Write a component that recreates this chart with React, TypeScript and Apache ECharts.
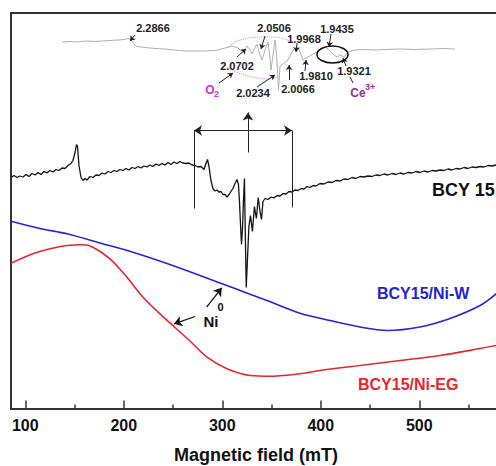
import React, { useEffect, useRef } from "react";
import * as echarts from "echarts";

// Main spectra: [magnetic field (mT), intensity (a.u.)]
const BCY15: number[][] = [
  [85.5,231],[88.5,233],[91.6,231],[94.6,232.5],[97.7,231.5],[100.7,234],[103.8,232],[106.8,235],[109.9,233.5],[112.9,236],
  [116,234],[119,237],[122,235.5],[125.1,238],[128.1,236.5],[131.2,239],[134.2,238],[137.3,240.5],[140.3,240],[143.3,243],
  [146.4,245],[148.4,248],[150.5,256],[152,264],[153,262],[154.5,243],[156.6,231],[158.6,228],[160.6,230],[162.7,228.5],
  [165.7,232],[168.7,231],[171.8,233.5],[174.8,233],[177.9,235.5],[180.9,234.5],[184,237],[187,236],[190.1,238],[193.1,237],
  [196.1,239],[199.2,238],[202.2,240],[205.3,238.5],[208.3,241],[211.4,240],[214.4,242],[217.5,240.5],[220.5,242.5],[223.5,241.5],
  [226.6,243.5],[229.6,242],[232.7,244.5],[235.7,243],[238.8,245],[241.8,243.5],[244.9,246],[247.9,244],[250.9,246.5],[254,245],
  [257.1,247],[260.1,245.5],[263.1,245],[266.2,245.5],[269.2,243.5],[272.3,243],[275.3,241.5],[278.4,242],[281.4,239],[283.4,245],
  [285,249],[286.5,242],[288.5,228],[290.5,220],[292.6,217.5],[294.6,218.5],[296.6,216.5],[298.7,217],[300.7,214],[302.7,214],
  [304.7,211.5],[306.8,214],[308.8,217],[310.8,220],[312.9,225],[314.9,229],[316.4,224],[317.4,208],[318.4,186],[319.5,164],
  [320.5,180],[321.5,208],[322.5,230],[323.3,178],[324.3,121],[325.5,148],[327,182],[328.6,193],[330.6,177],[332.6,202],
  [334.6,190],[336.5,211],[338.3,197],[339.8,189],[341.3,207],[343.4,210],[346.4,209],[349.5,211.5],[352.5,210.5],[355.6,213],
  [358.6,212.5],[361.7,215],[364.7,214.5],[367.7,217],[370.8,216.5],[373.8,218.5],[376.9,218],[379.9,220],[383,219.5],[386,222],
  [389,221],[392.1,223],[395.1,222.5],[399.2,225],[403.2,224.5],[407.3,226.5],[411.4,226],[415.4,228],[419.5,227.5],[423.5,229.5],
  [427.6,229],[431.7,231],[435.7,230],[439.8,232],[443.9,231.5],[447.9,232.5],[452,232],[456,233.5],[460.1,233],[464.2,234.5],
  [468.2,233.5],[472.3,235],[476.3,234],[480.4,235.5],[484.5,234.5],[488.5,236],[492.6,235.5],[496.6,237],[500.7,236],[504.8,237.5],
  [508.8,236.5],[512.9,238],[516.9,237.5],[521,238.5],[525.1,238],[529.1,239.5],[533.2,238.5],[537.2,240],[541.3,239.5],[545.4,241],
  [549.4,240],[553.5,241.5],[557.5,241],[561.6,242],[565.7,241.5],[569.7,243],[573.8,242.5],[577.9,243.5],[582,243]
];

const NI_W: number[][] = [
  [85.5,187.3],[114.9,180],[142.3,174.7],[175.8,165.5],[209.3,156.3],[243.9,145],[277.4,133],[310.9,120.7],[345.4,108],
  [378.9,95.3],[409.3,88],[439.8,81.5],[467.2,78],[500.7,81.5],[531.2,90],[561.6,103],[577.9,114.5],[587,122]
];

const NI_EG: number[][] = [
  [85.5,145.3],[107.8,154.7],[125.1,159.7],[142.3,163],[158.6,163.7],[168.7,161.3],[186,149.7],[203.2,131.3],[219.5,111.3],
  [236.8,94.7],[252,81],[267.2,67.5],[284.5,51.3],[304.8,39.7],[328.1,33],[351.5,32.3],[378.9,34.7],[399.2,38],[439.8,43],
  [480.4,48],[521,53],[561.6,60],[577.9,63],[587,65]
];

const MAJOR_TICKS = [100, 200, 300, 400, 500];
const MINOR_TICKS = [150, 250, 350, 450, 550];

// Inset (expanded spectrum), in inset units
const INSET: number[][] = [
  [2,63],[10,63.5],[18,63],[26,64],[34,63.5],[42,64],[50,64.5],[58,65],[64,65.5],[68,66.5],[71,65],[74,61],[77,58.5],
  [85,57.5],[95,56.5],[105,56],[115,55],[125,54],[135,54],[145,54],[155,54.5],[165,57],[172,59],[178,57],[183,53],
  [187,59],[190,55],[192,51],[195,58],[197,61],[199,53],[202,45],[205,55],[208,63],[210,47],[211,35],[213,50],[215,65],
  [217,45],[218.5,15],[220,39],[223,41],[227,44],[230,49],[233,55],[236,57],[238,58],[240,53],[243,45],[246,47],[250,49],
  [253,51],[257,53],[261,56],[265,58],[268,56],[271,53],[274,50],[277,48],[280,50],[284,48],[288,53],[295,55],[305,55.5],
  [315,55],[325,55.5],[340,56],[355,55.5],[370,56],[385,56.5],[395,56]
];
const O2_UPPER: number[][] = [[168,57],[175,63],[185,66],[198,68],[212,68],[225,66],[232,62]];
const O2_LOWER: number[][] = [[162,42],[172,35],[185,30],[198,27],[210,26],[218,28]];

// g-value labels in the inset
const G_LABELS = [
  { t: "2.2866", x: 153, y: 28 },
  { t: "2.0702", x: 237, y: 66 },
  { t: "2.0506", x: 274, y: 28 },
  { t: "1.9968", x: 304, y: 39 },
  { t: "1.9435", x: 337, y: 29 },
  { t: "1.9810", x: 316, y: 76 },
  { t: "2.0234", x: 253, y: 93 },
  { t: "2.0066", x: 298, y: 89 },
  { t: "1.9321", x: 354, y: 71 },
];
const INSET_ARROWS: number[][][] = [
  [[75,70],[70,64]],[[177,48],[186,56]],[[159,22],[173,32]],[[205,69],[201,56]],[[237,62],[236,53]],
  [[271,71],[269,58]],[[245,34],[246,45]],[[197,18],[215,30]],[[229,25],[229,40]],[[286,39],[283,47]]
];

const FONT = "Liberation Sans, Arial, sans-serif";

export default function App() {
  const ref = useRef<HTMLDivElement>(null);
  useEffect(() => {
    if (!ref.current) return;
    const chart = echarts.init(ref.current, undefined, { renderer: "svg" });
    const axisLineStyle = { color: "#333", width: 2 };
    const arrow = (a: number[], b: number[], s0: string, s1: string) => [
      { coord: a, symbol: s0 },
      { coord: b, symbol: s1 },
    ];
    const txt = (text: string, x: number, y: number, size: number, color: string, align = "center") => ({
      type: "text",
      x,
      y,
      z: 10,
      style: {
        text,
        fill: color,
        font: `bold ${size}px ${FONT}`,
        textAlign: align,
        textVerticalAlign: "middle",
      },
    });
    chart.setOption({
      animation: false,
      backgroundColor: "#fff",
      grid: [
        { left: 11, top: 13, width: 506.8, height: 395.5, outerBoundsMode: "none" },
        { left: 60, top: 15, width: 400, height: 90, outerBoundsMode: "none" },
      ],
      xAxis: [
        {
          type: "value", gridIndex: 0, min: 85.5, max: 600, position: "bottom",
          axisLine: { show: true, onZero: false, lineStyle: axisLineStyle },
          axisTick: { show: true, inside: true, length: 8, customValues: MAJOR_TICKS, lineStyle: { color: "#333", width: 1.5 } },
          axisLabel: { show: true, customValues: MAJOR_TICKS, margin: 9, color: "#111", fontSize: 16, fontWeight: "bold", fontFamily: FONT },
          splitLine: { show: false },
        },
        {
          type: "value", gridIndex: 0, min: 85.5, max: 600, position: "bottom",
          axisLine: { show: false, onZero: false },
          axisTick: { show: true, inside: true, length: 4, customValues: MINOR_TICKS, lineStyle: { color: "#333", width: 1.5 } },
          axisLabel: { show: false, customValues: MINOR_TICKS },
          splitLine: { show: false },
        },
        {
          type: "value", gridIndex: 0, min: 85.5, max: 600, position: "top",
          axisLine: { show: true, onZero: false, lineStyle: axisLineStyle },
          axisTick: { show: false }, axisLabel: { show: false }, splitLine: { show: false },
        },
        { type: "value", gridIndex: 1, min: 0, max: 400, show: false, splitLine: { show: false } },
      ],
      yAxis: [
        {
          type: "value", gridIndex: 0, min: 0, max: 395.5, position: "left",
          axisLine: { show: true, onZero: false, lineStyle: axisLineStyle },
          axisTick: { show: false }, axisLabel: { show: false }, splitLine: { show: false },
        },
        { type: "value", gridIndex: 1, min: 0, max: 90, show: false, splitLine: { show: false } },
      ],
      series: [
        {
          type: "line", xAxisIndex: 0, yAxisIndex: 0, data: BCY15, showSymbol: false, silent: true,
          lineStyle: { color: "#141414", width: 1.3 },
          markLine: {
            silent: true, symbolSize: 8, label: { show: false }, emphasis: { disabled: true },
            lineStyle: { color: "#222", width: 1, type: "solid" },
            data: [
              arrow([271.3, 278], [370.8, 278], "arrow", "arrow"),
              arrow([271.3, 278], [271.3, 200], "none", "none"),
              arrow([370.8, 278], [370.8, 201], "none", "none"),
              arrow([326.1, 256], [326.1, 296], "none", "arrow"),
            ],
          },
        },
        {
          type: "line", xAxisIndex: 0, yAxisIndex: 0, data: NI_W, showSymbol: false, silent: true, smooth: 0.3,
          lineStyle: { color: "#2424dc", width: 1.6 },
        },
        {
          type: "line", xAxisIndex: 0, yAxisIndex: 0, data: NI_EG, showSymbol: false, silent: true, smooth: 0.3,
          lineStyle: { color: "#e8262e", width: 1.6 },
          markLine: {
            silent: true, symbolSize: 8, label: { show: false }, emphasis: { disabled: true },
            lineStyle: { color: "#111", width: 1.3, type: "solid" },
            data: [
              arrow([284.1, 101.3], [299.4, 120.7], "none", "arrow"),
              arrow([272.3, 92], [251, 84.7], "none", "arrow"),
            ],
          },
        },
        {
          type: "line", xAxisIndex: 3, yAxisIndex: 1, data: INSET, showSymbol: false, silent: true,
          lineStyle: { color: "#b0b0b0", width: 1 },
          markLine: {
            silent: true, symbolSize: 5, label: { show: false }, emphasis: { disabled: true },
            lineStyle: { color: "#222", width: 1, type: "solid" },
            data: [
              ...INSET_ARROWS.map(([a, b]) => arrow(a, b, "none", "arrow")),
              arrow([290, 28], [293, 22], "none", "none"),
            ],
          },
        },
        {
          type: "line", xAxisIndex: 3, yAxisIndex: 1, data: O2_UPPER, showSymbol: false, silent: true, smooth: 0.4,
          lineStyle: { color: "#e27ad0", width: 1, type: "dotted" },
        },
        {
          type: "line", xAxisIndex: 3, yAxisIndex: 1, data: O2_LOWER, showSymbol: false, silent: true, smooth: 0.4,
          lineStyle: { color: "#e27ad0", width: 1, type: "dotted" },
        },
      ],
      graphic: {
        elements: [
          txt("BCY 15", 432, 190, 18, "#111", "left"),
          txt("BCY15/Ni-W", 377, 293, 16, "#2424d0", "left"),
          txt("BCY15/Ni-EG", 358, 384, 16, "#e8262e", "left"),
          txt("Ni", 211, 321, 15, "#111"),
          txt("0", 220.5, 307, 11, "#111"),
          txt("Magnetic field (mT)", 256, 455, 18, "#111"),
          ...G_LABELS.map((g) => txt(g.t, g.x, g.y, 11, "#222")),
          txt("O", 210, 90, 12, "#d433cc"),
          txt("2", 216.5, 94, 9, "#d433cc"),
          txt("Ce", 358, 93, 12, "#9a2a9a"),
          txt("3+", 370, 87, 9, "#9a2a9a"),
          {
            type: "ellipse", z: 10,
            shape: { cx: 332.5, cy: 54.5, rx: 15.5, ry: 8.5 },
            style: { fill: "none", stroke: "#111", lineWidth: 1.5 },
          },
        ],
      },
    });
    return () => chart.dispose();
  }, []);
  return (
    <div style={{ position: "fixed", left: 0, top: 0, width: 496, height: 466, overflow: "hidden", background: "#fff" }}>
      <div ref={ref} style={{ width: 540, height: 466 }} />
    </div>
  );
}
